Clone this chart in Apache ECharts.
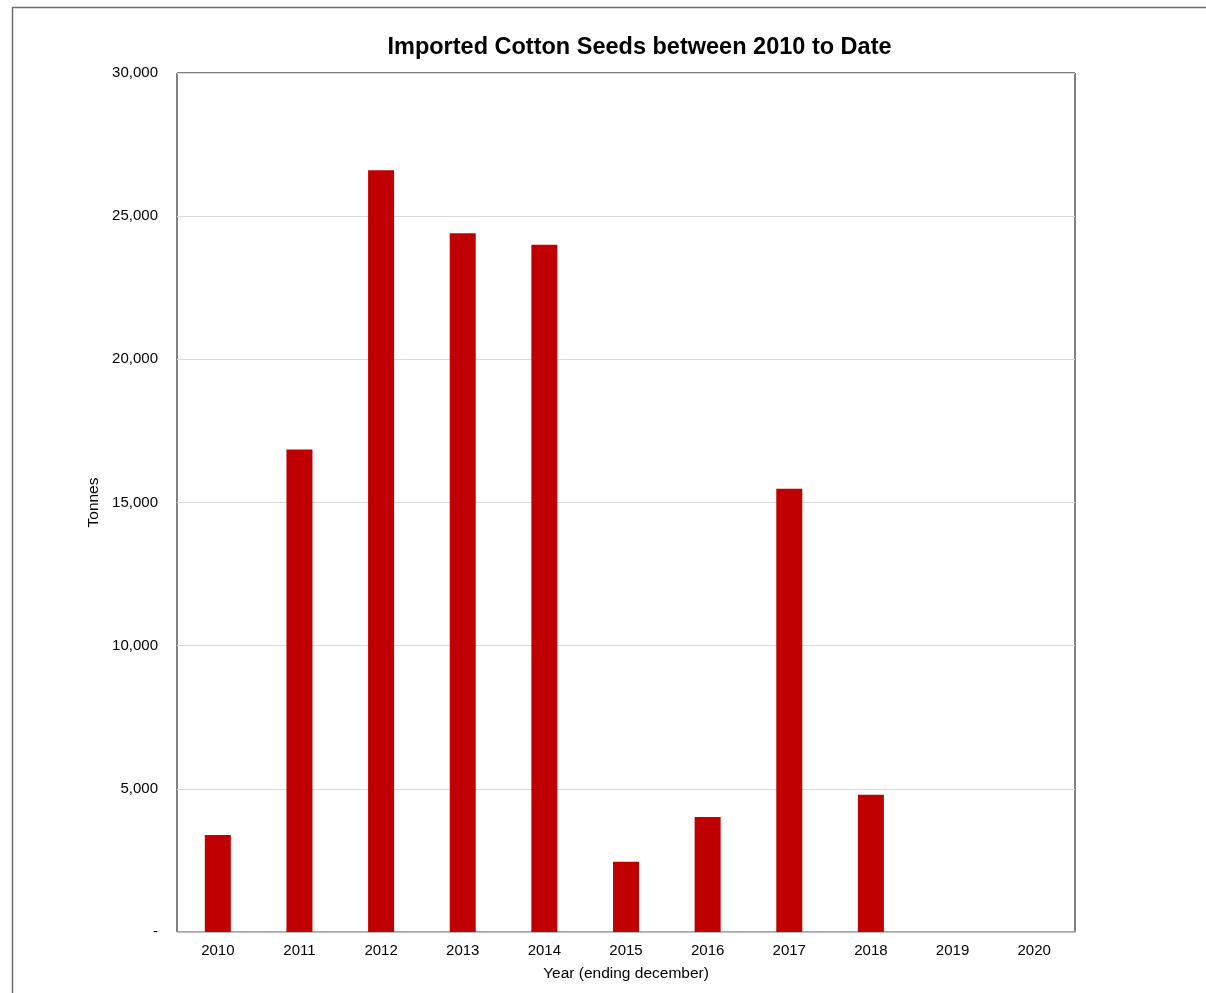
<!DOCTYPE html>
<html>
<head>
<meta charset="utf-8">
<script src="https://cdn.jsdelivr.net/npm/echarts@6/dist/echarts.min.js"></script>
<style>
html,body{margin:0;padding:0;background:#fff;}
#c{width:1206px;height:993px;}
</style>
</head>
<body>
<div id="c"></div>
<script>
const categories = ['2010','2011','2012','2013','2014','2015','2016','2017','2018','2019','2020'];
const tonnes = [3390, 16850, 26600, 24400, 24000, 2450, 4020, 15480, 4790, 0, 0];
const yTicks = [0, 5000, 10000, 15000, 20000, 25000, 30000];

const chart = echarts.init(document.getElementById('c'));
const font = 'Liberation Sans, Arial, sans-serif';
chart.setOption({
  animation: false,
  backgroundColor: '#fff',
  title: {
    text: 'Imported Cotton Seeds between 2010 to Date',
    left: 634.5, top: 31, textAlign: 'center',
    textStyle: {fontFamily: font, fontSize: 23.5, fontWeight: 'bold', color: '#000'}
  },
  graphic: [{
    type: 'rect', shape: {x: 12.5, y: 7.5, width: 1200, height: 1000},
    style: {fill: 'none', stroke: '#6b6b6b', lineWidth: 1.5}, silent: true
  }],
  grid: {left: 177, right: 131, top: 73, bottom: 61, show: true, borderColor: '#000', borderWidth: 1, backgroundColor: 'transparent'},
  xAxis: {
    type: 'category', data: categories,
    name: 'Year (ending december)', nameLocation: 'middle', nameGap: 34,
    nameTextStyle: {fontFamily: font, fontSize: 15.5, color: '#000'},
    axisLine: {show: true, lineStyle: {color: '#b4b4b4', width: 1.5}},
    axisTick: {show: false},
    axisLabel: {fontFamily: font, fontSize: 15, color: '#000', margin: 11}
  },
  yAxis: {
    type: 'value', min: 0, max: 30000, interval: 5000,
    name: 'Tonnes', nameLocation: 'middle', nameGap: 75, nameRotate: 90,
    nameTextStyle: {fontFamily: font, fontSize: 15.5, color: '#000'},
    axisLine: {show: false}, axisTick: {show: false},
    splitLine: {show: true, lineStyle: {color: '#d9d9d9', width: 1}},
    axisLabel: {fontFamily: font, fontSize: 15, color: '#000', margin: 19,
      formatter: v => v === 0 ? '-' : v.toLocaleString('en-US')}
  },
  series: [{
    type: 'bar', data: tonnes, barWidth: 26,
    itemStyle: {color: '#c00000'}
  }]
});
</script>
</body>
</html>
